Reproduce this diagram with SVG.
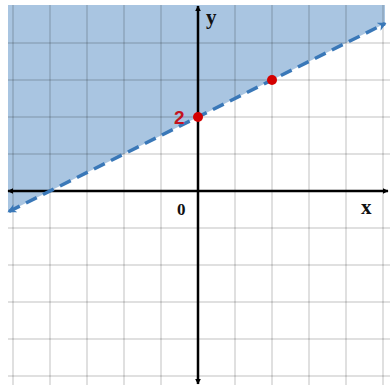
<svg xmlns="http://www.w3.org/2000/svg" width="390" height="385" viewBox="0 0 390 385">
<style>
.grid line{stroke:#000;stroke-opacity:0.12;stroke-width:2}
.axis{stroke:#000;stroke-width:2.5}
.lbl{font-family:"Liberation Serif",serif;font-weight:bold;fill:#111}
</style>
<defs>
<marker id="ah" viewBox="0 0 10 10" refX="9" refY="5" markerWidth="6" markerHeight="6" orient="auto-start-reverse" markerUnits="userSpaceOnUse">
<path d="M0,0 L10,5 L0,10 z" fill="#000"/>
</marker>
<marker id="bh" viewBox="0 0 10 10" refX="8" refY="5" markerWidth="9" markerHeight="9" orient="auto-start-reverse" markerUnits="userSpaceOnUse">
<path d="M0,0 L10,5 L0,10 L3,5 z" fill="#3a78b8"/>
</marker>
</defs>
<rect width="390" height="385" fill="#fff"/>
<polygon id="region" points="8,5 385,5 385,23.5 8,212" fill="#a9c5e1"/>
<g class="grid">
<line x1="13" y1="5" x2="13" y2="385"/>
<line x1="50" y1="5" x2="50" y2="385"/>
<line x1="87" y1="5" x2="87" y2="385"/>
<line x1="124" y1="5" x2="124" y2="385"/>
<line x1="161" y1="5" x2="161" y2="385"/>
<line x1="235" y1="5" x2="235" y2="385"/>
<line x1="272" y1="5" x2="272" y2="385"/>
<line x1="309" y1="5" x2="309" y2="385"/>
<line x1="346" y1="5" x2="346" y2="385"/>
<line x1="383" y1="5" x2="383" y2="385"/>
<line x1="8" y1="43" x2="390" y2="43"/>
<line x1="8" y1="80" x2="390" y2="80"/>
<line x1="8" y1="117" x2="390" y2="117"/>
<line x1="8" y1="154" x2="390" y2="154"/>
<line x1="8" y1="228" x2="390" y2="228"/>
<line x1="8" y1="265" x2="390" y2="265"/>
<line x1="8" y1="302" x2="390" y2="302"/>
<line x1="8" y1="339" x2="390" y2="339"/>
<line x1="8" y1="376" x2="390" y2="376"/>
</g>
<g id="connectors">
<line id="x-axis" class="axis" x1="8" y1="191" x2="388" y2="191" marker-start="url(#ah)" marker-end="url(#ah)"/>
<line id="y-axis" class="axis" x1="198" y1="6" x2="198" y2="384" marker-start="url(#ah)" marker-end="url(#ah)"/>
<line id="boundary" x1="9" y1="211.5" x2="385" y2="23.5" stroke="#3a78b8" stroke-width="3.5" stroke-dasharray="12,7" marker-start="url(#bh)" marker-end="url(#bh)"/>
</g>
<g id="point-a"><circle cx="198" cy="117" r="5" fill="#d40000"/></g>
<g id="point-b"><circle cx="272" cy="80" r="5" fill="#d40000"/></g>
<text class="lbl" x="206" y="24" font-size="21">y</text>
<text class="lbl" x="361" y="214" font-size="21">x</text>
<text class="lbl" x="177" y="215" font-size="17">0</text>
<text x="174" y="124" font-family="Liberation Sans,sans-serif" font-weight="bold" font-size="19" fill="#c3141e">2</text>
</svg>
